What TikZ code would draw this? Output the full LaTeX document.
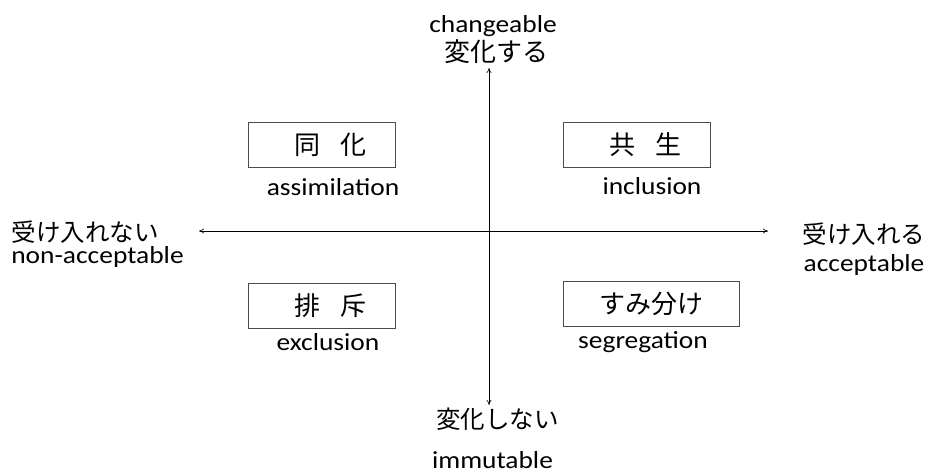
\documentclass[tikz,border=0pt]{standalone}
\usepackage{fontspec}
\setmainfont{Carlito}[FakeStretch=1.12]
\newfontfamily\jp{Noto Sans CJK JP}
\usetikzlibrary{arrows.meta}
\begin{document}
\begin{tikzpicture}[x=1pt,y=-1pt,
  box/.style={draw=black!70, line width=0.8pt, minimum height=45pt, inner sep=0pt, font=\jp\fontsize{26}{28}\selectfont},
  lbl/.style={inner sep=0pt, anchor=base, font=\fontsize{24.5}{26}\selectfont},
  jlbl/.style={inner sep=0pt, font=\jp\fontsize{24.5}{26}\selectfont},
  ax/.style={{To[length=5pt,width=5pt]}-{To[length=5pt,width=5pt]}, line width=0.6pt}]
\useasboundingbox (0,0) rectangle (934,474);
% axis ends
\coordinate (top) at (489,68);
\coordinate (bot) at (489,405);
\coordinate (lft) at (199,231);
\coordinate (rgt) at (768,231);
\draw[ax] (bot) -- (top);
\draw[ax] (lft) -- (rgt);
% axis labels
\node[lbl] (chg) at (493,32) {changeable};
\node[jlbl, font=\jp\fontsize{26}{28}\selectfont] (chgj) at (496,52) {変化する};
\node[jlbl] (imj) at (497.5,419) {変化しない};
\node[lbl] (im) at (492.5,468) {immutable};
\node[jlbl] (naj) at (85,232) {受け入れない};
\node[lbl] (na) at (97.5,263) {non-acceptable};
\node[jlbl] (acj) at (864,234) {受け入れる};
\node[lbl] (ac) at (864,271) {acceptable};
% boxes
\node[box, minimum width=147pt] (dk) at (321.5,144.5) {\hspace{18pt}同\hspace{0.75em}化};
\node[lbl] (dkl) at (333,195) {assimilation};
\node[box, minimum width=147pt] (ks) at (636.5,144.5) {\hspace{18pt}共\hspace{0.75em}生};
\node[lbl] (ksl) at (652,194) {inclusion};
\node[box, minimum width=147pt] (hs) at (321.5,305.5) {\hspace{18pt}排\hspace{0.75em}斥};
\node[lbl] (hsl) at (328,350) {exclusion};
\node[box, minimum width=176pt] (sm) at (651,303.5) {すみ分け};
\node[lbl] (sml) at (643,348) {segregation};
\end{tikzpicture}
\end{document}
